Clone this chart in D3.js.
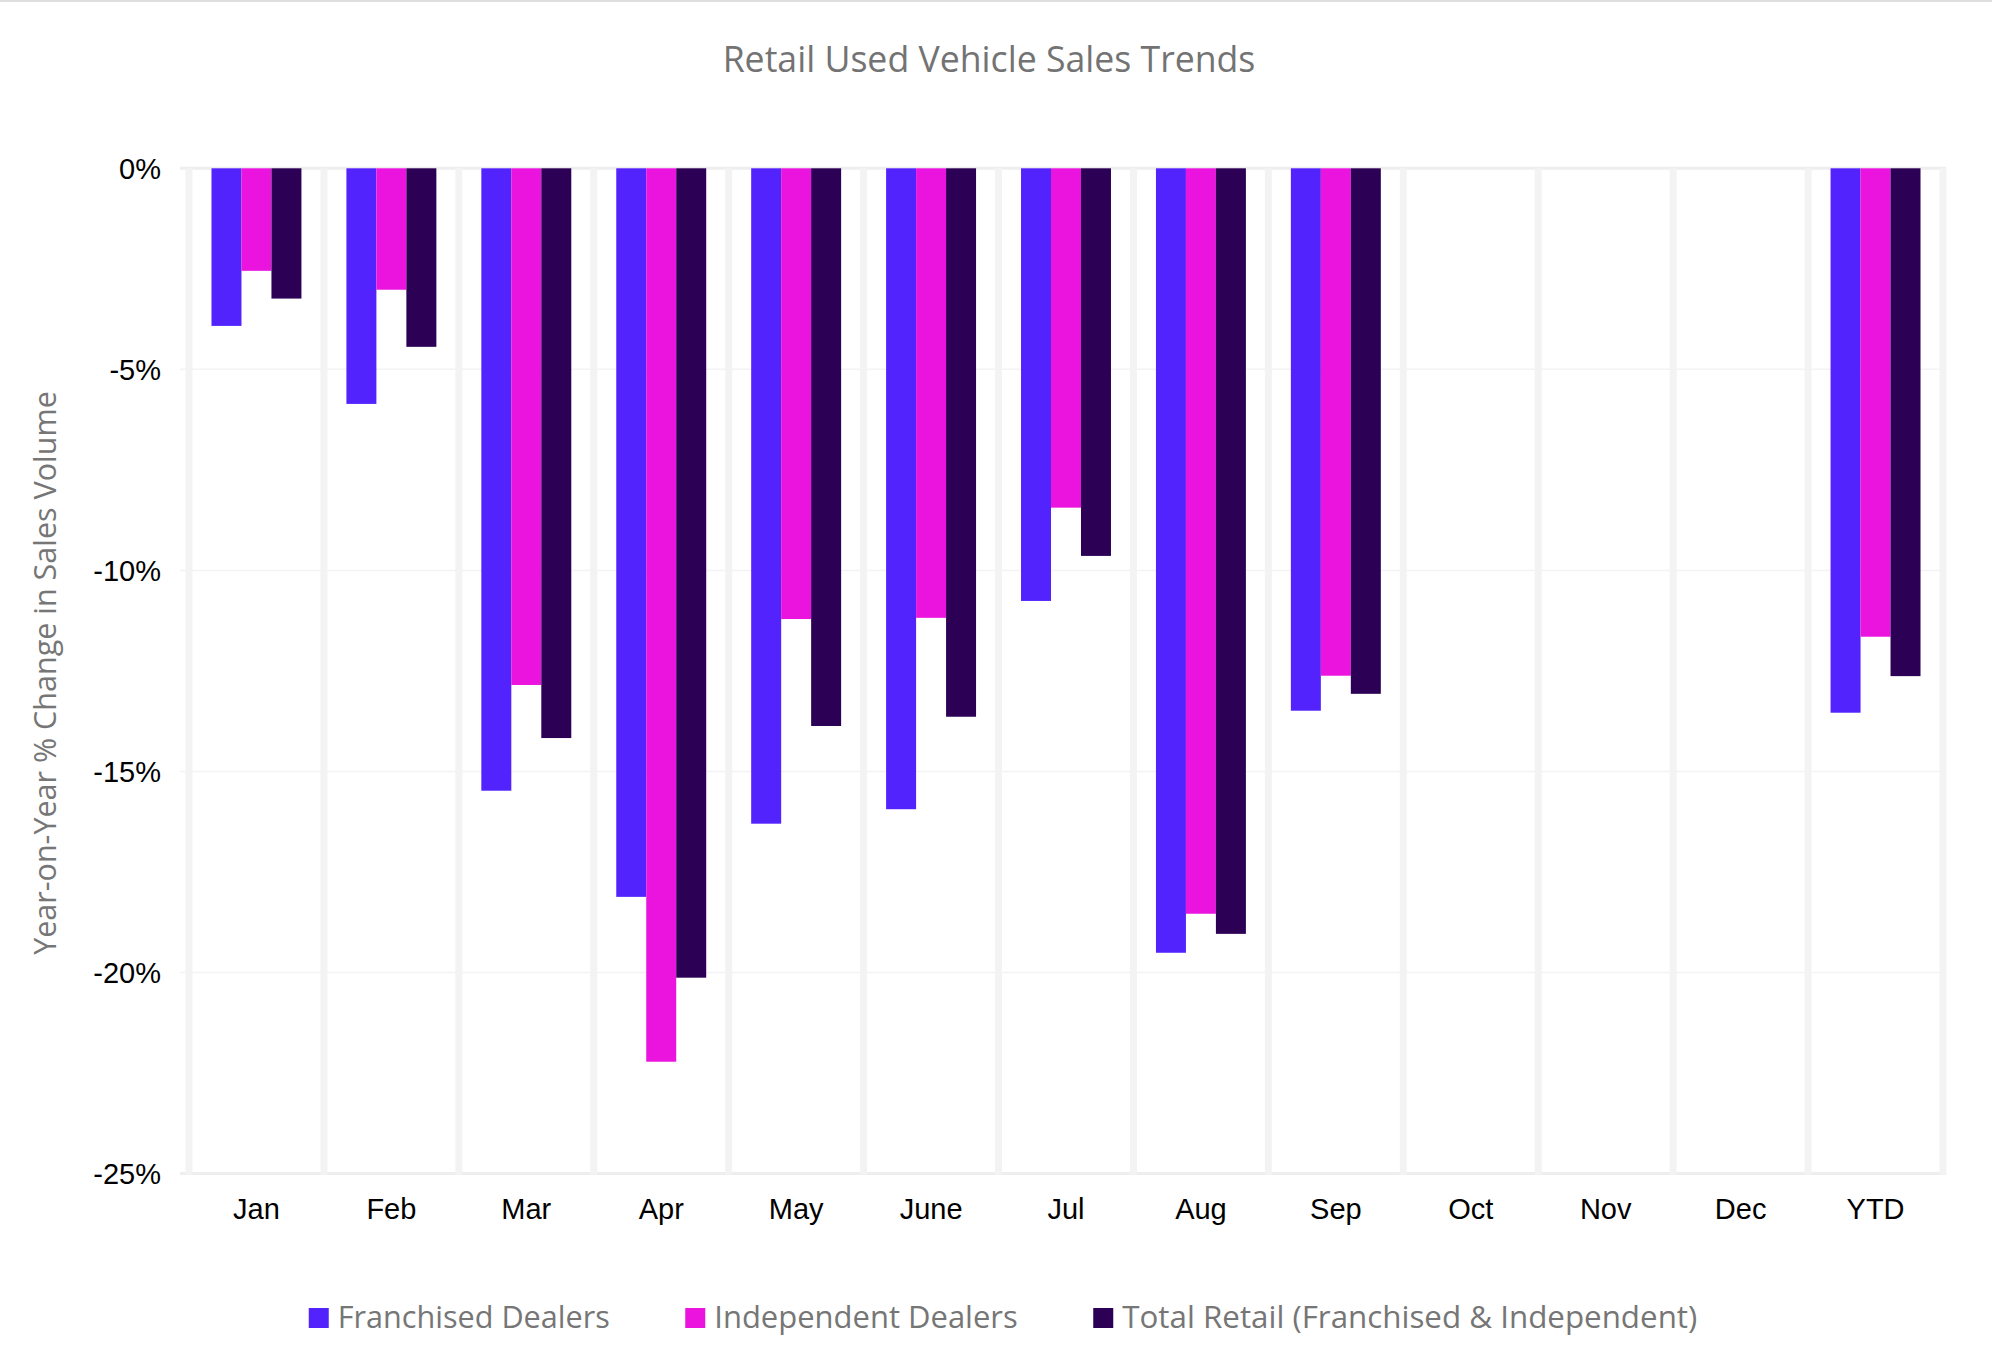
<!DOCTYPE html>
<html>
<head>
<meta charset="utf-8">
<script src="https://cdn.jsdelivr.net/npm/d3@7"></script>
<style>
  html, body { margin: 0; padding: 0; background: #ffffff; }
  svg { display: block; }
</style>
</head>
<body>
<svg id="chart" width="1992" height="1361"></svg>
<script>
// ---- data ----
const categories = ["Jan", "Feb", "Mar", "Apr", "May", "June", "Jul", "Aug", "Sep", "Oct", "Nov", "Dec", "YTD"];
const seriesNames = ["Franchised Dealers", "Independent Dealers", "Total Retail (Franchised & Independent)"];
const franchised  = [-3.92, -5.86, -15.48, -18.12, -16.30, -15.94, -10.76, -19.51, -13.49, null, null, null, -13.54];
const independent = [-2.55, -3.02, -12.85, -22.22, -11.21, -11.18, -8.44, -18.54, -12.62, null, null, null, -11.65];
const totalRetail = [-3.24, -4.44, -14.17, -20.13, -13.87, -13.64, -9.64, -19.04, -13.07, null, null, null, -12.63];
const yTicks = [0, -5, -10, -15, -20, -25];
const seriesColors = ["#5323FD", "#EB14DE", "#2B0055"];
const titleText = "Retail Used Vehicle Sales Trends";
const yTitleText = "Year-on-Year % Change in Sales Volume";

const seriesValues = [franchised, independent, totalRetail];

// ---- layout ----
const W = 1992, H = 1361;
const plotLeft = 189, plotRight = 1943;
const plotTop = 168.3, plotBottom = 1173.5;

const svg = d3.select("#chart");

// top border line
svg.append("rect").attr("x", 0).attr("y", 0).attr("width", W).attr("height", 2).attr("fill", "#dfdfdf");

const x = d3.scaleBand().domain(categories).range([plotLeft, plotRight]).paddingInner(0).paddingOuter(0);
const xInner = d3.scaleBand().domain(d3.range(seriesNames.length)).range([0, x.bandwidth()]).paddingInner(0).paddingOuter(0.75);
const y = d3.scaleLinear().domain([0, -25]).range([plotTop, plotBottom]);

// horizontal gridlines
svg.append("g").selectAll("line").data(yTicks).join("line")
  .attr("x1", 180).attr("x2", plotRight + 3)
  .attr("y1", d => y(d)).attr("y2", d => y(d))
  .attr("stroke", d => (d === 0 || d === -25) ? "#eeeeee" : "#f3f3f3")
  .attr("stroke-width", d => (d === 0 || d === -25) ? 3 : 1.5);

// vertical separators at category boundaries
const bounds = categories.map(c => x(c)).concat([plotRight]);
svg.append("g").selectAll("line").data(bounds).join("line")
  .attr("x1", d => d).attr("x2", d => d)
  .attr("y1", plotTop).attr("y2", plotBottom + 1)
  .attr("stroke", "#f3f3f3").attr("stroke-width", 7);

// bars
const barData = [];
categories.forEach((c, i) => {
  seriesValues.forEach((vals, s) => {
    if (vals[i] !== null) barData.push({cat: c, s, v: vals[i]});
  });
});
svg.append("g").selectAll("rect").data(barData).join("rect")
  .attr("x", d => x(d.cat) + xInner(d.s))
  .attr("width", xInner.bandwidth())
  .attr("y", d => y(0))
  .attr("height", d => y(d.v) - y(0))
  .attr("fill", d => seriesColors[d.s]);

// y axis labels
const yAxis = d3.axisLeft(y).tickValues(yTicks).tickSize(0).tickPadding(0).tickFormat(d => d + "%");
const yG = svg.append("g").attr("transform", `translate(161,0)`).call(yAxis);
yG.select(".domain").remove();
yG.selectAll("text")
  .attr("font-family", "'Liberation Sans', Arial, sans-serif")
  .attr("font-size", 29).attr("fill", "#000").attr("dy", "0.35em");

// x axis labels
const xAxis = d3.axisBottom(x).tickSize(0).tickPadding(0);
const xG = svg.append("g").attr("transform", `translate(0,1219)`).call(xAxis);
xG.select(".domain").remove();
xG.selectAll("text")
  .attr("font-family", "'Liberation Sans', Arial, sans-serif")
  .attr("font-size", 29).attr("fill", "#000").attr("dy", 0).attr("y", 0);

// helper to fit text to a target width
function fit(sel, target, start) {
  sel.attr("font-size", start);
  const w = sel.node().getComputedTextLength();
  const fs = start * target / w;
  sel.attr("font-size", fs);
  return fs;
}

// title
const title = svg.append("text").text(titleText)
  .attr("x", 989).attr("y", 71.5)
  .attr("text-anchor", "middle")
  .attr("font-family", "'Open Sans', sans-serif")
  .attr("fill", "#737373");
fit(title, 533, 34);

// y title
const yTitle = svg.append("text").text(yTitleText)
  .attr("transform", `translate(56,673) rotate(-90)`)
  .attr("text-anchor", "middle")
  .attr("font-family", "'Open Sans', sans-serif")
  .attr("fill", "#767676");
fit(yTitle, 564, 30);

// legend
const legendWidths = [272, 303.5, 575];
const legend = svg.append("g");
const items = legend.selectAll("g").data(seriesNames).join("g");
items.append("rect").attr("width", 20).attr("height", 20).attr("y", 1308)
  .attr("fill", (d, i) => seriesColors[i]);
const lt = items.append("text").text(d => d)
  .attr("y", 1328)
  .attr("font-family", "'Open Sans', sans-serif")
  .attr("font-size", 30)
  .attr("fill", "#767676");
const w0 = lt.nodes()[0].getComputedTextLength();
lt.attr("font-size", 30 * 272 / w0);
lt.attr("textLength", (d, i) => legendWidths[i]).attr("lengthAdjust", "spacingAndGlyphs");
const gapSq = 9, gapItem = 75.5;
const total = d3.sum(legendWidths) + legendWidths.length * (20 + gapSq) + (legendWidths.length - 1) * gapItem;
let cx = 1003 - total / 2;
items.each(function(d, i) {
  const g = d3.select(this);
  g.select("rect").attr("x", cx);
  g.select("text").attr("x", cx + 20 + gapSq);
  cx += 20 + gapSq + legendWidths[i] + gapItem;
});
</script>
</body>
</html>
